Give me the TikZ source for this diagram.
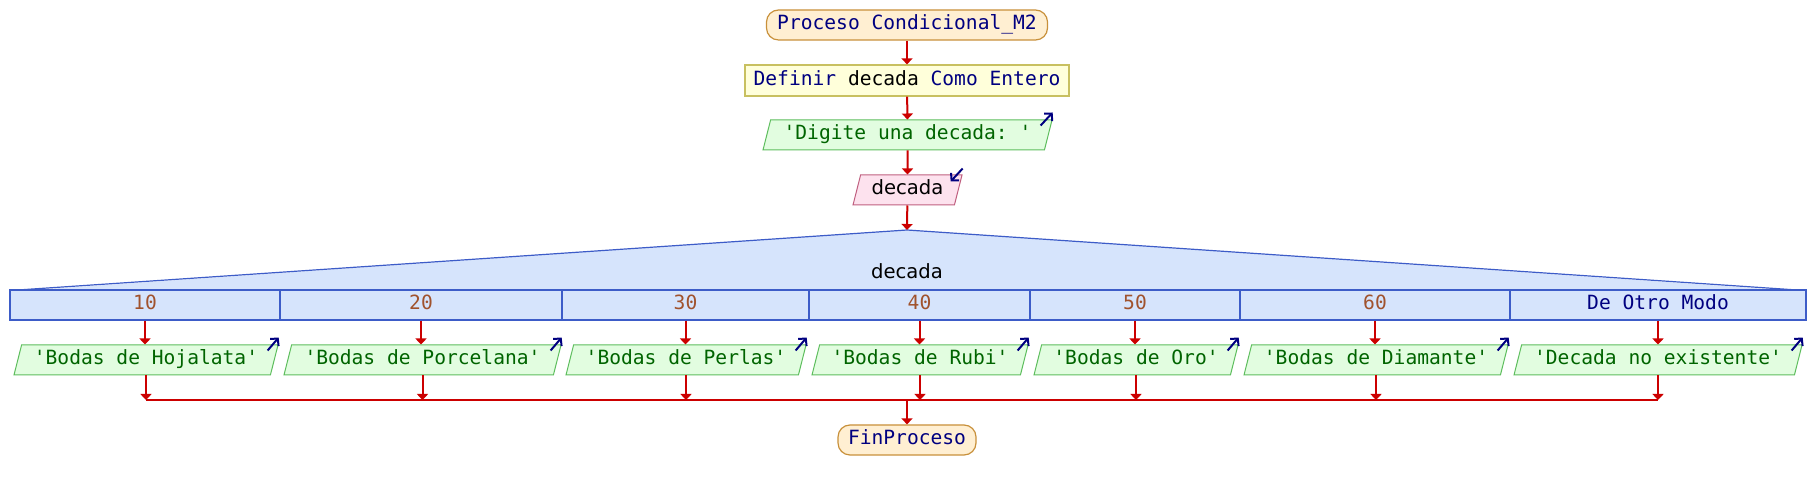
\documentclass[tikz,border=0pt]{standalone}
\usepackage{fontspec}
\setmainfont{DejaVu Sans}
\setmonofont{DejaVu Sans Mono}
\usetikzlibrary{calc,arrows.meta,shapes.geometric}

\definecolor{kwblue}{HTML}{000080}
\definecolor{strgreen}{HTML}{006400}
\definecolor{numbrown}{HTML}{A0522D}
\definecolor{flowred}{HTML}{CC0000}
\definecolor{termfill}{HTML}{FFEFD2}
\definecolor{termdraw}{HTML}{C8903A}
\definecolor{deffill}{HTML}{FFFFDA}
\definecolor{defdraw}{HTML}{C8C060}
\definecolor{outfill}{HTML}{E2FDE0}
\definecolor{outdraw}{HTML}{5EBE5E}
\definecolor{infill}{HTML}{FDE2EE}
\definecolor{indraw}{HTML}{C06080}
\definecolor{casefill}{HTML}{D6E4FC}
\definecolor{casedraw}{HTML}{3D5CC8}

\newcommand{\kw}[1]{\textcolor{kwblue}{#1}}

\begin{document}
\begin{tikzpicture}[x=0.5pt,y=-0.5pt,
		every node/.style={font=\fontsize{9.8}{12}\selectfont\ttfamily,inner sep=0pt,text height=7.2pt,text depth=2.2pt},
		flow/.style={draw=flowred,line width=1pt,-{Triangle[length=3pt,width=5.5pt]}},
		bus/.style={draw=flowred,line width=1pt},
		terminal/.style={draw=termdraw,fill=termfill,rounded corners=6pt,minimum height=15pt,line width=0.6pt},
		defbox/.style={draw=defdraw,fill=deffill,minimum height=15.5pt,line width=0.6pt},
		outpar/.style={trapezium,trapezium left angle=68,trapezium right angle=112,trapezium stretches body,draw=outdraw,fill=outfill,text=strgreen,minimum height=15pt,line width=0.5pt},
		inpar/.style={outpar,draw=indraw,fill=infill,text=black,font=\fontsize{9.8}{12}\selectfont\rmfamily},
		cell/.style={draw=casedraw,fill=casefill,minimum height=15pt,text=numbrown,line width=0.6pt},
		icon/.style={draw=kwblue,line width=1pt,-{Straight Barb[length=2.6pt,width=5.5pt]}}
		]
		\path[use as bounding box,fill=white] (0,0) rectangle (1814,490);

		% top of the flow
		\node[terminal,minimum width=140.5pt] (inicio) at (907,25) {\kw{Proceso Condicional\_M2}};
		\node[defbox,minimum width=162pt] (definir) at (907,80.5) {\kw{Definir} decada \kw{Como Entero}};
		\node[outpar,minimum width=144.5pt] (digite) at (907.5,135) {'Digite una decada: '};
		\node[inpar,minimum width=54.5pt] (leer) at (907.5,190) {decada};
		\draw[icon] ($(digite.top right corner)+(-12,6)$) -- ($(digite.top right corner)+(0,-7)$);
		\draw[icon] ($(leer.top right corner)+(0,-6)$) -- ($(leer.top right corner)+(-12,7)$);

		% selector
		\coordinate (apex) at (907,230);
		\fill[casefill] (18,291) -- (apex) -- (1797,291) -- cycle;
		\draw[casedraw,line width=0.6pt] (18,290) -- (apex) -- (1797,290);
		\node[font=\fontsize{9.8}{12}\selectfont\rmfamily] (selector) at (907,274) {decada};
		\node[cell,minimum width=135pt] (c10) at (145,305) {10};
		\node[cell,minimum width=141pt] (c20) at (421,305) {20};
		\node[cell,minimum width=123.5pt] (c30) at (685.5,305) {30};
		\node[cell,minimum width=110.5pt] (c40) at (919.5,305) {40};
		\node[cell,minimum width=105pt] (c50) at (1135,305) {50};
		\node[cell,minimum width=135pt] (c60) at (1375,305) {60};
		\node[cell,minimum width=148pt,text=kwblue] (cotro) at (1658,305) {De Otro Modo};

		% outputs
		\node[outpar,minimum width=132pt] (p10) at (146,360) {'Bodas de Hojalata'};
		\node[outpar,minimum width=138.5pt] (p20) at (422.5,360) {'Bodas de Porcelana'};
		\node[outpar,minimum width=120pt] (p30) at (686,360) {'Bodas de Perlas'};
		\node[outpar,minimum width=108pt] (p40) at (920,360) {'Bodas de Rubi'};
		\node[outpar,minimum width=102pt] (p50) at (1136,360) {'Bodas de Oro'};
		\node[outpar,minimum width=132pt] (p60) at (1376,360) {'Bodas de Diamante'};
		\node[outpar,minimum width=144pt] (potro) at (1658,360) {'Decada no existente'};
		\draw[icon] ($(p10.top right corner)+(-11,6)$) -- ($(p10.top right corner)+(0,-7)$);
		\draw[icon] ($(p20.top right corner)+(-11,6)$) -- ($(p20.top right corner)+(0,-7)$);
		\draw[icon] ($(p30.top right corner)+(-11,6)$) -- ($(p30.top right corner)+(0,-7)$);
		\draw[icon] ($(p40.top right corner)+(-11,6)$) -- ($(p40.top right corner)+(0,-7)$);
		\draw[icon] ($(p50.top right corner)+(-11,6)$) -- ($(p50.top right corner)+(0,-7)$);
		\draw[icon] ($(p60.top right corner)+(-11,6)$) -- ($(p60.top right corner)+(0,-7)$);
		\draw[icon] ($(potro.top right corner)+(-11,6)$) -- ($(potro.top right corner)+(0,-7)$);

		\node[terminal,minimum width=69pt] (fin) at (907,440) {\kw{FinProceso}};
		\coordinate (bus) at (907,400);

		% connectors
		\draw[flow] (inicio) -- (definir);
		\draw[flow] (definir) -- (digite);
		\draw[flow] (digite) -- (leer);
		\draw[flow] (leer) -- (apex);
		\draw[flow] (c10) -- (c10 |- p10.north);
		\draw[flow] (c20) -- (c20 |- p20.north);
		\draw[flow] (c30) -- (c30 |- p30.north);
		\draw[flow] (c40) -- (c40 |- p40.north);
		\draw[flow] (c50) -- (c50 |- p50.north);
		\draw[flow] (c60) -- (c60 |- p60.north);
		\draw[flow] (cotro) -- (cotro |- potro.north);
		\draw[bus] (p10 |- bus) -- (potro |- bus);
		\draw[flow] (p10) -- (p10 |- bus);
		\draw[flow] (p20) -- (p20 |- bus);
		\draw[flow] (p30) -- (p30 |- bus);
		\draw[flow] (p40) -- (p40 |- bus);
		\draw[flow] (p50) -- (p50 |- bus);
		\draw[flow] (p60) -- (p60 |- bus);
		\draw[flow] (potro) -- (potro |- bus);
		\draw[flow] (bus) -- (fin);
\end{tikzpicture}
\end{document}
